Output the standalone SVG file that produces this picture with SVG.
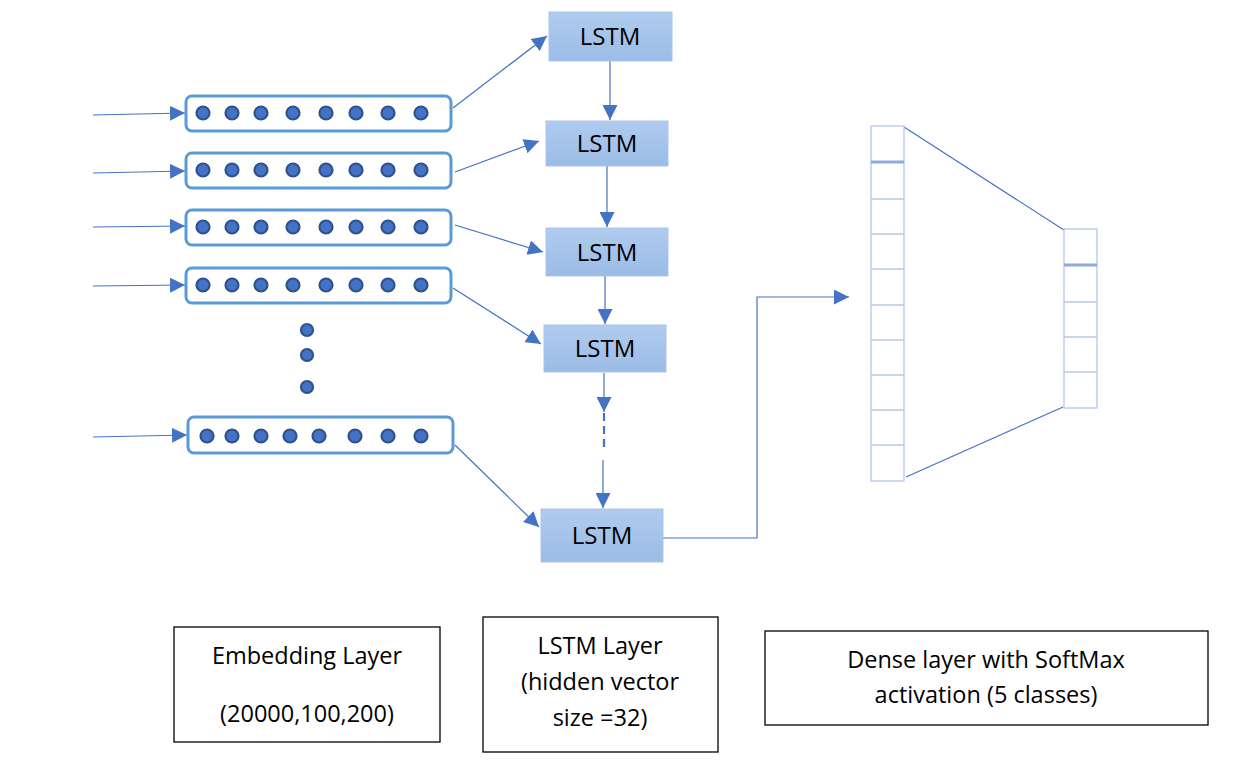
<svg xmlns="http://www.w3.org/2000/svg" width="1237" height="764" viewBox="0 0 1237 764">
<style>
.emb{fill:#fff;stroke:#5b9bd5;stroke-width:3}
.dot{fill:#4472c4;stroke:#2f528f;stroke-width:2.2}
.lstm{fill:url(#lg);stroke:#a9c6ea;stroke-width:1}
.lt{font-family:"Open Sans","Liberation Sans",sans-serif;font-size:24px;fill:#000;text-anchor:middle}
.conn{stroke:#4472c4;stroke-width:1.2;fill:none}
.dash{stroke:#4472c4;stroke-width:2.2;fill:none;stroke-dasharray:8,5}
.cell{fill:#fff;stroke:#b4c7e7;stroke-width:1.3}
.box{fill:#fff;stroke:#000;stroke-width:1.3}
.bt{font-family:"Open Sans","Liberation Sans",sans-serif;font-size:23.5px;fill:#000;text-anchor:middle}
</style>
<defs>
<linearGradient id="lg" x1="0" y1="0" x2="0" y2="1">
<stop offset="0" stop-color="#b0cbee"/>
<stop offset="1" stop-color="#9bbce6"/>
</linearGradient>
<marker id="ah" viewBox="0 0 10 10" refX="10" refY="5" markerWidth="15" markerHeight="15" markerUnits="userSpaceOnUse" orient="auto">
<path d="M0,0 L10,5 L0,10 z" fill="#4472c4"/>
</marker>
</defs>
<g id="connectors">
<line class="conn" x1="93" y1="115" x2="185" y2="113" marker-end="url(#ah)"/>
<line class="conn" x1="93" y1="173" x2="185" y2="171" marker-end="url(#ah)"/>
<line class="conn" x1="93" y1="227" x2="185" y2="226" marker-end="url(#ah)"/>
<line class="conn" x1="93" y1="286" x2="185" y2="285" marker-end="url(#ah)"/>
<line class="conn" x1="93" y1="437" x2="187" y2="435" marker-end="url(#ah)"/>
<line class="conn" x1="453" y1="108" x2="547" y2="36" marker-end="url(#ah)"/>
<line class="conn" x1="455" y1="172" x2="539" y2="141" marker-end="url(#ah)"/>
<line class="conn" x1="455" y1="225" x2="543" y2="252" marker-end="url(#ah)"/>
<line class="conn" x1="453" y1="288" x2="541" y2="344" marker-end="url(#ah)"/>
<line class="conn" x1="455" y1="445" x2="539" y2="527" marker-end="url(#ah)"/>
<line class="conn" x1="610" y1="61" x2="610" y2="120" marker-end="url(#ah)"/>
<line class="conn" x1="607" y1="166" x2="607" y2="227" marker-end="url(#ah)"/>
<line class="conn" x1="605" y1="276" x2="605" y2="324" marker-end="url(#ah)"/>
<line class="conn" x1="604" y1="373" x2="604" y2="412" marker-end="url(#ah)"/>
<line class="dash" x1="604" y1="413" x2="604" y2="452"/>
<line class="conn" x1="603" y1="460" x2="603" y2="508" marker-end="url(#ah)"/>
<polyline class="conn" points="663,538 757,538 757,297 849,297" marker-end="url(#ah)"/>
<line class="conn" x1="904" y1="127" x2="1067" y2="232"/>
<line class="conn" x1="906" y1="477" x2="1063" y2="407"/>
</g>
<g id="emb1">
<rect class="emb" x="186" y="96" width="265" height="35" rx="6"/>
<g class="dot"><circle cx="203" cy="113" r="6.5"/><circle cx="232" cy="113" r="6.5"/><circle cx="261" cy="113" r="6.5"/><circle cx="293" cy="113" r="6.5"/><circle cx="326" cy="113" r="6.5"/><circle cx="356" cy="113" r="6.5"/><circle cx="388" cy="113" r="6.5"/><circle cx="421" cy="113" r="6.5"/></g>
</g>
<g id="emb2">
<rect class="emb" x="186" y="153" width="265" height="35" rx="6"/>
<g class="dot"><circle cx="203" cy="170" r="6.5"/><circle cx="232" cy="170" r="6.5"/><circle cx="261" cy="170" r="6.5"/><circle cx="293" cy="170" r="6.5"/><circle cx="326" cy="170" r="6.5"/><circle cx="356" cy="170" r="6.5"/><circle cx="388" cy="170" r="6.5"/><circle cx="421" cy="170" r="6.5"/></g>
</g>
<g id="emb3">
<rect class="emb" x="186" y="210" width="265" height="35" rx="6"/>
<g class="dot"><circle cx="203" cy="227" r="6.5"/><circle cx="232" cy="227" r="6.5"/><circle cx="261" cy="227" r="6.5"/><circle cx="293" cy="227" r="6.5"/><circle cx="326" cy="227" r="6.5"/><circle cx="356" cy="227" r="6.5"/><circle cx="388" cy="227" r="6.5"/><circle cx="421" cy="227" r="6.5"/></g>
</g>
<g id="emb4">
<rect class="emb" x="186" y="268" width="265" height="35" rx="6"/>
<g class="dot"><circle cx="203" cy="285" r="6.5"/><circle cx="232" cy="285" r="6.5"/><circle cx="261" cy="285" r="6.5"/><circle cx="293" cy="285" r="6.5"/><circle cx="326" cy="285" r="6.5"/><circle cx="356" cy="285" r="6.5"/><circle cx="388" cy="285" r="6.5"/><circle cx="421" cy="285" r="6.5"/></g>
</g>
<g id="vdots" class="dot">
<circle cx="307" cy="330" r="6"/><circle cx="307" cy="355" r="6"/><circle cx="307" cy="387" r="6"/>
</g>
<g id="emb5">
<rect class="emb" x="188" y="417" width="265" height="36" rx="6"/>
<g class="dot"><circle cx="207" cy="436" r="6.5"/><circle cx="232" cy="436" r="6.5"/><circle cx="261" cy="436" r="6.5"/><circle cx="290" cy="436" r="6.5"/><circle cx="319" cy="436" r="6.5"/><circle cx="355" cy="436" r="6.5"/><circle cx="388" cy="436" r="6.5"/><circle cx="421" cy="436" r="6.5"/></g>
</g>
<g id="lstm1"><rect class="lstm" x="549" y="12" width="123" height="49"/><text class="lt" x="610" y="45">LSTM</text></g>
<g id="lstm2"><rect class="lstm" x="546" y="121" width="122" height="45"/><text class="lt" x="607" y="152">LSTM</text></g>
<g id="lstm3"><rect class="lstm" x="546" y="228" width="122" height="48"/><text class="lt" x="607" y="261">LSTM</text></g>
<g id="lstm4"><rect class="lstm" x="544" y="325" width="122" height="47"/><text class="lt" x="605" y="357">LSTM</text></g>
<g id="lstm5"><rect class="lstm" x="541" y="509" width="122" height="53"/><text class="lt" x="602" y="544">LSTM</text></g>
<g id="dense1">
<rect class="cell" x="871" y="126" width="33" height="355"/>
<line x1="871" y1="162" x2="904" y2="162" stroke="#8faadc" stroke-width="3"/>
<g stroke="#b4c7e7" stroke-width="1.3"><line x1="871" y1="199" x2="904" y2="199"/><line x1="871" y1="234" x2="904" y2="234"/><line x1="871" y1="269" x2="904" y2="269"/><line x1="871" y1="305" x2="904" y2="305"/><line x1="871" y1="340" x2="904" y2="340"/><line x1="871" y1="375" x2="904" y2="375"/><line x1="871" y1="410" x2="904" y2="410"/><line x1="871" y1="445" x2="904" y2="445"/></g>
</g>
<g id="dense2">
<rect class="cell" x="1064" y="229" width="33" height="179"/>
<line x1="1064" y1="265" x2="1097" y2="265" stroke="#8faadc" stroke-width="3"/>
<g stroke="#b4c7e7" stroke-width="1.3"><line x1="1064" y1="302" x2="1097" y2="302"/><line x1="1064" y1="337" x2="1097" y2="337"/><line x1="1064" y1="372" x2="1097" y2="372"/></g>
</g>
<g id="label-emb"><rect class="box" x="174" y="627" width="266" height="115"/><text class="bt" x="307" y="664">Embedding Layer</text><text class="bt" x="307" y="722">(20000,100,200)</text></g>
<g id="label-lstm"><rect class="box" x="483" y="617" width="235" height="135"/><text class="bt" x="600" y="654">LSTM Layer</text><text class="bt" x="600" y="690">(hidden vector</text><text class="bt" x="600" y="726">size =32)</text></g>
<g id="label-dense"><rect class="box" x="765" y="631" width="443" height="94"/><text class="bt" x="986" y="668">Dense layer with SoftMax</text><text class="bt" x="986" y="703">activation (5 classes)</text></g>
</svg>
